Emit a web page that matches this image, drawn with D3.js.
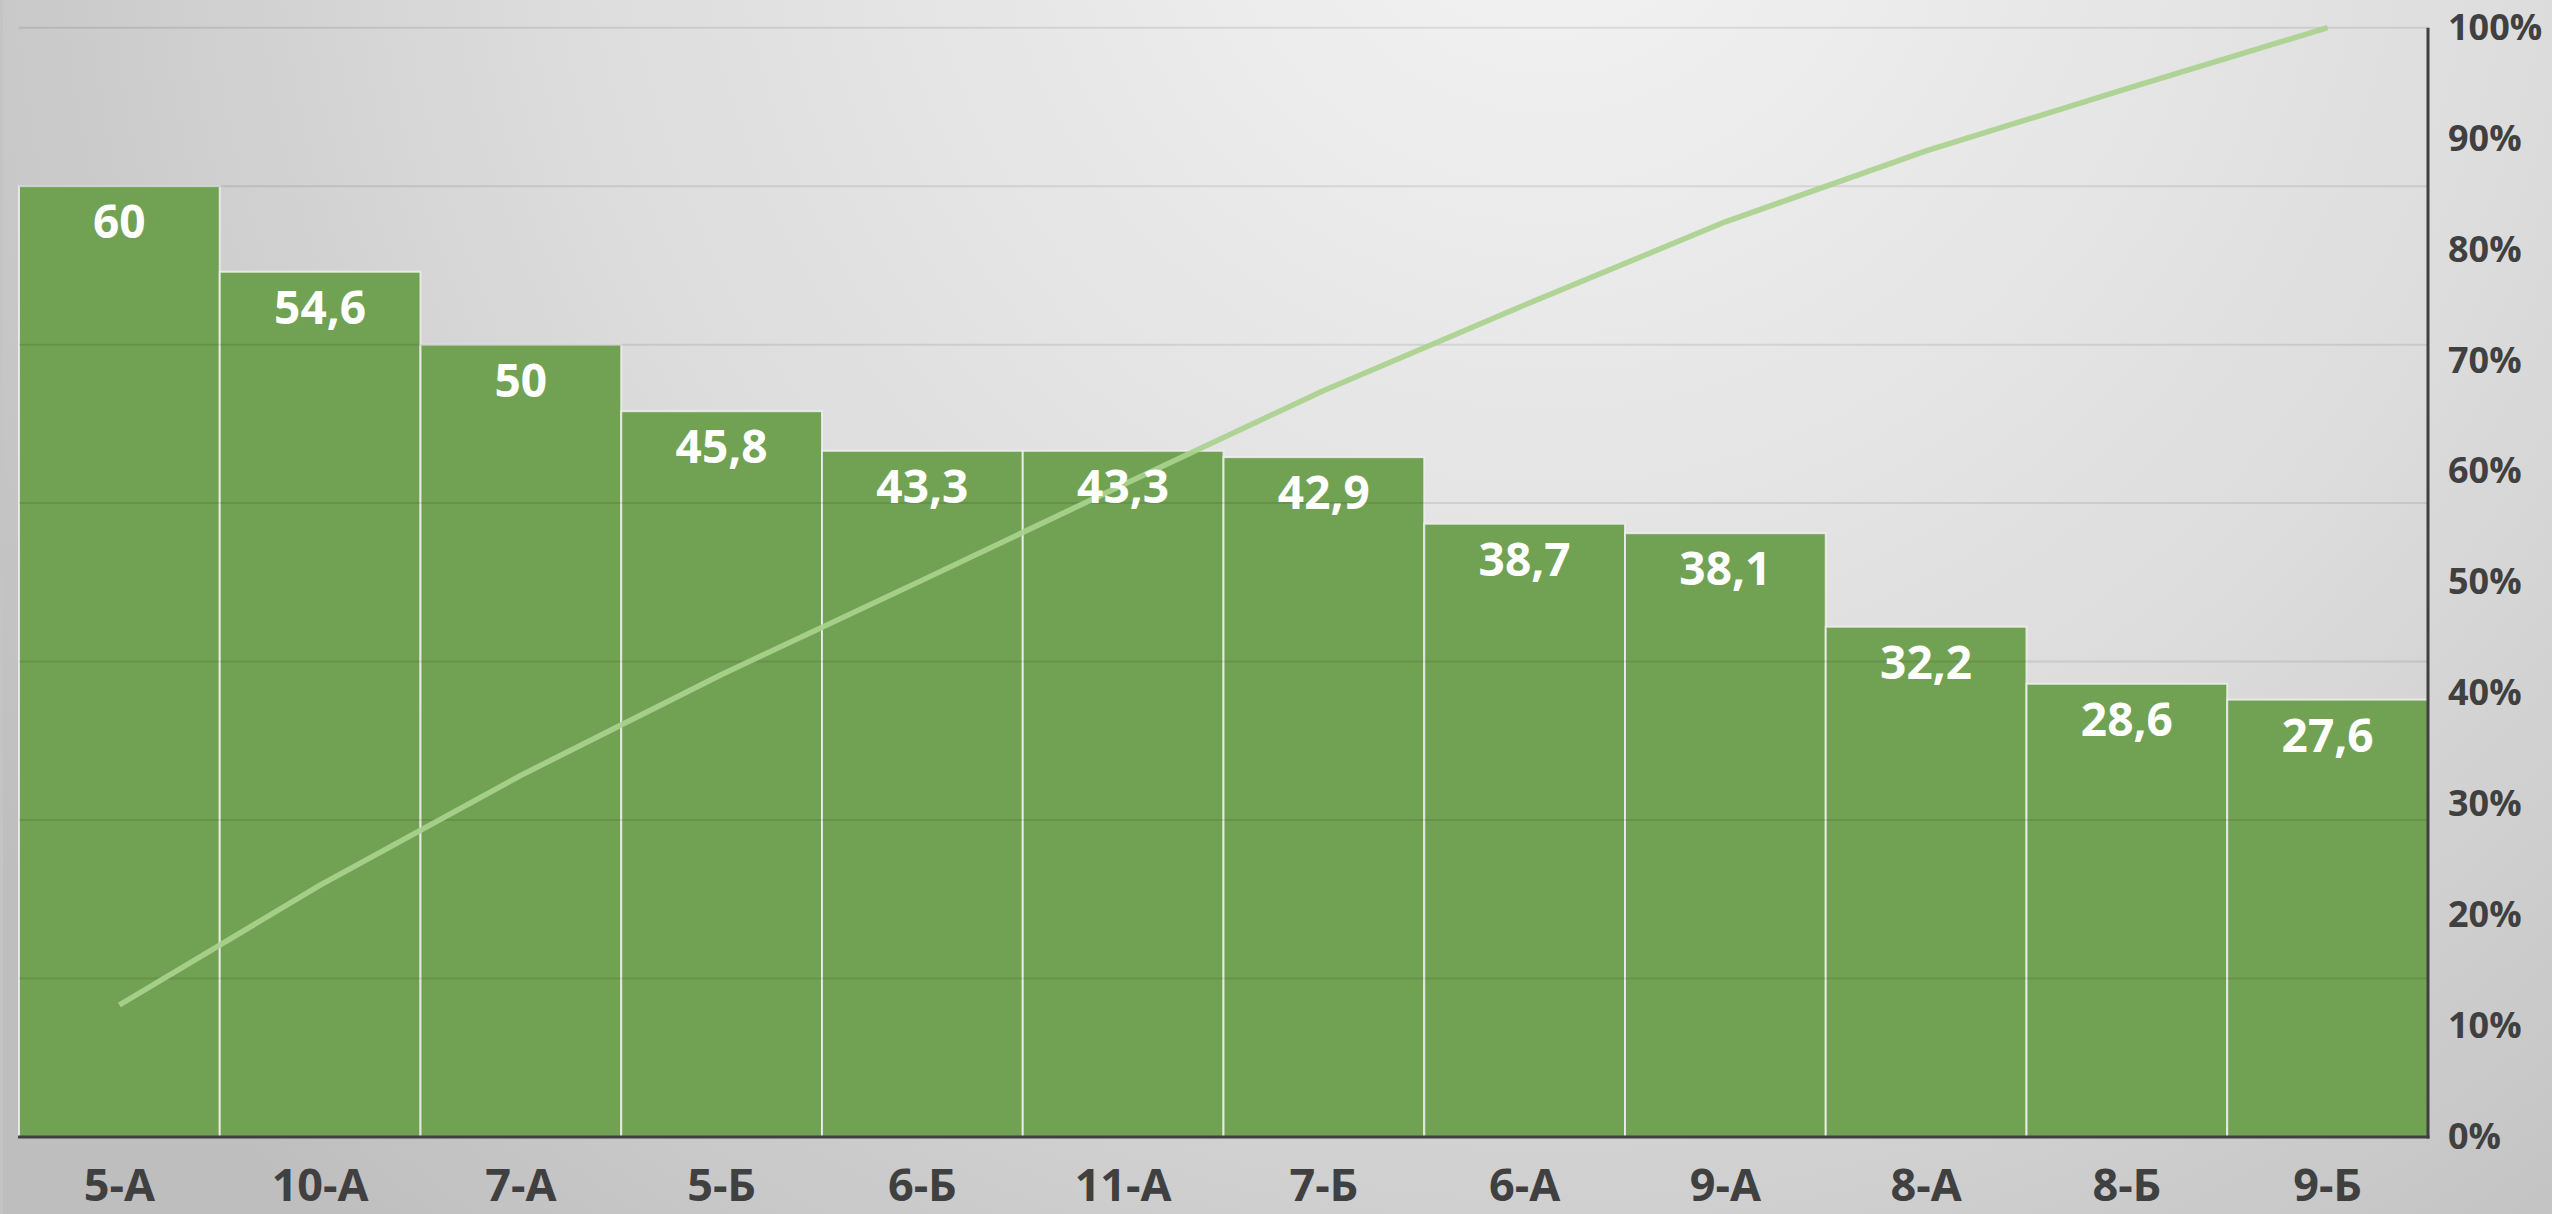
<!DOCTYPE html>
<html lang="ru">
<head>
<meta charset="UTF-8">
<title>Pareto</title>
<script src="https://d3js.org/d3.v7.min.js"></script>
<style>
    body { margin: 0; overflow: hidden; }
    svg { display: block; font-family: "Open Sans", sans-serif; }
    .bar-label { fill: #fff; font-weight: 700; font-size: 46px; }
    .x-label { fill: #404040; font-weight: 700; font-size: 45px; }
    .y-label { fill: #404040; font-weight: 700; font-size: 36px; }
</style>
</head>
<body>
<div id="chart"></div>
<script>
const classes = ["5-А", "10-А", "7-А", "5-Б", "6-Б", "11-А", "7-Б", "6-А", "9-А", "8-А", "8-Б", "9-Б"];
const values = [60, 54.6, 50, 45.8, 43.3, 43.3, 42.9, 38.7, 38.1, 32.2, 28.6, 27.6];
const valueLabels = ["60", "54,6", "50", "45,8", "43,3", "43,3", "42,9", "38,7", "38,1", "32,2", "28,6", "27,6"];
const cumulative = [11.9, 22.7, 32.6, 41.7, 50.2, 58.8, 67.3, 75.0, 82.5, 88.9, 94.5, 100];
const percentTicks = [0, 10, 20, 30, 40, 50, 60, 70, 80, 90, 100];
const gridTicks = [10, 20, 30, 40, 50, 60, 70];

const W = 2552, H = 1214;
const plotLeft = 19, plotRight = 2428, plotTop = 27.7, plotBottom = 1137;

const svg = d3.select("#chart").append("svg")
    .attr("width", W)
    .attr("height", H);

const defs = svg.append("defs");
const grad = defs.append("radialGradient")
    .attr("id", "bg")
    .attr("gradientUnits", "userSpaceOnUse")
    .attr("cx", 1550).attr("cy", -150).attr("r", 1850);
grad.append("stop").attr("offset", 0).attr("stop-color", "#f4f4f4");
grad.append("stop").attr("offset", 0.55).attr("stop-color", "#dcdcdc");
grad.append("stop").attr("offset", 1).attr("stop-color", "#bebebe");

svg.append("rect")
    .attr("width", W).attr("height", H)
    .attr("fill", "url(#bg)");

// thin darker strip at the left edge
svg.append("rect")
    .attr("width", 3).attr("height", H)
    .attr("fill", "#c4c4c4");

const x = d3.scaleBand()
    .domain(classes)
    .range([plotLeft, plotRight])
    .padding(0);

const y = d3.scaleLinear().domain([0, 70]).range([plotBottom, plotTop]);
const y2 = d3.scaleLinear().domain([0, 100]).range([plotBottom, plotTop]);

// bars
svg.append("g")
    .selectAll("rect")
    .data(values)
    .join("rect")
    .attr("x", (d, i) => x(classes[i]))
    .attr("y", d => y(d))
    .attr("width", x.bandwidth())
    .attr("height", d => plotBottom - y(d))
    .attr("fill", "#71a253")
    .attr("stroke", "rgba(240,240,240,0.85)")
    .attr("stroke-width", 2);

// gridlines
svg.append("g")
    .selectAll("line")
    .data(gridTicks)
    .join("line")
    .attr("x1", plotLeft)
    .attr("x2", plotRight)
    .attr("y1", d => y(d))
    .attr("y2", d => y(d))
    .attr("stroke", "rgba(0,0,0,0.09)")
    .attr("stroke-width", 2);

// cumulative line
const line = d3.line()
    .x((d, i) => x(classes[i]) + x.bandwidth() / 2)
    .y(d => y2(d));

svg.append("path")
    .datum(cumulative)
    .attr("d", line)
    .attr("fill", "none")
    .attr("stroke", "#a9d18e")
    .attr("stroke-opacity", 0.92)
    .attr("stroke-width", 5.5)
    .attr("stroke-linejoin", "round");

// bar value labels
svg.append("g")
    .selectAll("text")
    .data(values)
    .join("text")
    .attr("class", "bar-label")
    .attr("x", (d, i) => x(classes[i]) + x.bandwidth() / 2)
    .attr("y", d => y(d) + 52)
    .attr("text-anchor", "middle")
    .text((d, i) => valueLabels[i]);

// bottom axis
const xAxis = svg.append("g")
    .attr("transform", `translate(0,${plotBottom})`)
    .call(d3.axisBottom(x).tickSize(0).tickPadding(0));
xAxis.select(".domain").remove();
xAxis.selectAll("text")
    .attr("class", "x-label")
    .attr("fill", null)
    .attr("dy", null)
    .attr("y", 64);
xAxis.attr("font-family", null).attr("font-size", null);

svg.append("line")
    .attr("x1", plotLeft - 1).attr("x2", plotRight + 1.5)
    .attr("y1", plotBottom).attr("y2", plotBottom)
    .attr("stroke", "#404040")
    .attr("stroke-width", 3);

// right axis
const yAxis = svg.append("g")
    .attr("transform", `translate(${plotRight},0)`)
    .call(d3.axisRight(y2).tickValues(percentTicks).tickSize(0).tickPadding(20).tickFormat(d => d + "%"));
yAxis.select(".domain").remove();
yAxis.selectAll("text")
    .attr("class", "y-label")
    .attr("fill", null);
yAxis.attr("font-family", null).attr("font-size", null);

svg.append("line")
    .attr("x1", plotRight).attr("x2", plotRight)
    .attr("y1", plotTop).attr("y2", plotBottom + 1.5)
    .attr("stroke", "#404040")
    .attr("stroke-width", 3);
</script>
</body>
</html>
